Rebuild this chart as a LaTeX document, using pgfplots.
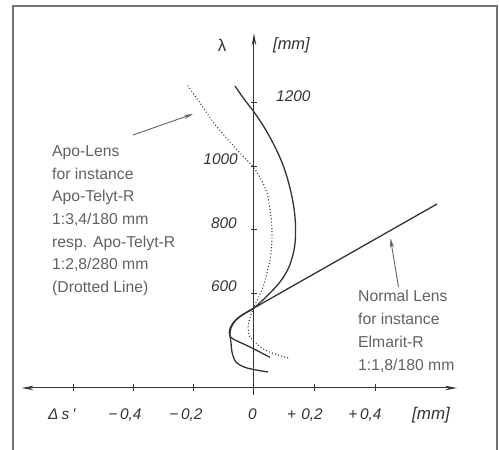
\documentclass[border=0pt]{standalone}
\usepackage{fontspec}
\setmainfont{Liberation Sans}
\usepackage{pgfplots}
\pgfplotsset{compat=1.18}
\usetikzlibrary{arrows.meta}
\definecolor{ink}{gray}{0.2}
\definecolor{txt}{gray}{0.38}
\definecolor{frm}{gray}{0.45}
\begin{document}
\begin{tikzpicture}
\begin{axis}[scale only axis, width=499bp, height=450bp,
  xmin=-0.8419, xmax=0.8121, ymin=105.3, ymax=1518.2,
  axis lines=none, clip=false]
% axes
\draw[ink, line width=1bp, {Stealth[length=12bp,width=4.5bp]}-{Stealth[length=12bp,width=4.5bp]}]
  (axis cs:-0.770,300) -- (axis cs:0.6729,300);
\draw[ink, line width=1bp, -{Stealth[length=12bp,width=4.5bp]}]
  (axis cs:0,278) -- (axis cs:0,1413.6);
% Apo-Telyt-R 180 (solid)
\addplot[ink, line width=1.3bp, smooth, tension=0.55] coordinates {
(-0.0630,1248.2) (-0.0331,1207.4) (0,1166.6) (0.0331,1119.5) (0.0630,1069.2)
(0.0895,1015.9) (0.1094,962.5) (0.1260,899.7) (0.1359,836.9) (0.1376,780.4)
(0.1326,733.3) (0.1160,679.9) (0.0862,632.8) (0.0431,588.9) (0,551.2)
(-0.0331,532.3) (-0.0597,513.5) (-0.0762,488.4) (-0.0795,466.4) (-0.0762,441.3)
(-0.0729,413.0) (-0.0597,381.6) (-0.0232,362.8) (0.0464,350.2)};
% Normal lens (solid)
\addplot[ink, line width=1.3bp, smooth, tension=0.5] coordinates {
(0.6066,877.7) (0.3033,714.4) (0.1193,615.5) (0,551.2) (-0.0265,537.0)
(-0.0497,522.9) (-0.0696,504.1) (-0.0812,482.1) (-0.0795,463.3) (-0.0663,452.3)
(-0.0133,428.7) (0.0530,396.4)};
% Apo-Telyt-R 280 (dotted)
\addplot[ink, line width=1.4bp, smooth, tension=0.55, line cap=round, dash pattern=on 0bp off 3.2bp] coordinates {
(-0.2188,1248.2) (-0.1790,1194.8) (-0.1226,1119.5) (-0.0464,1037.8) (0,990.7)
(0.0398,921.7) (0.0563,836.9) (0.0597,774.1) (0.0530,701.9) (0.0298,617.1)
(0,554.3) (-0.0133,519.8) (-0.0199,488.4) (-0.0133,460.1) (0.0066,441.3)
(0.0431,416.2) (0.1127,394.2)};
\end{axis}
\begin{scope}[x=1bp, y=-1bp, shift={(0bp,450bp)}]
% frame
\draw[frm, line width=1.3bp] (13,450) -- (13,6) -- (497,6) -- (497,450);
% ticks
\foreach \px in {73,133,193,314,375}{\draw[ink, line width=0.9bp] (\px,384.5) -- (\px,391.5);}
\foreach \py in {102,166,229,293}{\draw[ink, line width=0.9bp] (251,\py) -- (257,\py);}
% annotation arrows
\draw[txt, line width=0.9bp, -{Stealth[length=9bp,width=4bp]}] (133,135) -- (193,114);
\draw[txt, line width=0.9bp, -{Stealth[length=9bp,width=4bp]}] (398.5,287) -- (390.5,238.5);
% annotation texts
\begin{scope}[every node/.style={anchor=base west, inner sep=0pt, text=txt, font=\fontsize{15.8}{18}\selectfont}]
\node at (52,156.5) {Apo-Lens};
\node at (52,179.2) {for instance};
\node at (52,201.9) {Apo-Telyt-R};
\node at (52,224.6) {1:3,4/180 mm};
\node at (52,247.3) {resp. Apo-Telyt-R};
\node at (52,270.0) {1:2,8/280 mm};
\node at (52,292.7) {(Drotted Line)};
\node at (358,301.5) {Normal Lens};
\node at (358,324.5) {for instance};
\node at (358,348.0) {Elmarit-R};
\node at (358,371.0) {1:1,8/180 mm};
\end{scope}
% tick labels
\begin{scope}[every node/.style={inner sep=0pt, text=ink, font=\fontsize{15.5}{18}\selectfont\itshape}]
\node[anchor=base west] at (276,101.7) {1200};
\node[anchor=base east] at (238,165) {1000};
\node[anchor=base east] at (237,228.3) {800};
\node[anchor=base east] at (237,292) {600};
\node[anchor=base] at (125,420) {−\,0,4};
\node[anchor=base] at (186,420) {−\,0,2};
\node[anchor=base] at (252.5,420) {0};
\node[anchor=base] at (305,420) {+\,\,0,2};
\node[anchor=base] at (365,420) {+\,0,4};
\node[anchor=base west] at (48,420) {Δ\hspace{3bp}s\hspace{3bp}\textquotesingle};
\node[anchor=base west, font=\fontsize{17}{18}\selectfont\itshape] at (412,419.5) {[mm]};
\node[anchor=base west, font=\fontsize{16.5}{18}\selectfont\itshape] at (273,50) {[mm]};
\node[anchor=base, font=\fontsize{17}{18}\selectfont] at (222,51.7) {λ};
\end{scope}
\end{scope}
\pgfresetboundingbox
\path[use as bounding box] (0,0) rectangle (499bp,450bp);
\end{tikzpicture}
\end{document}
